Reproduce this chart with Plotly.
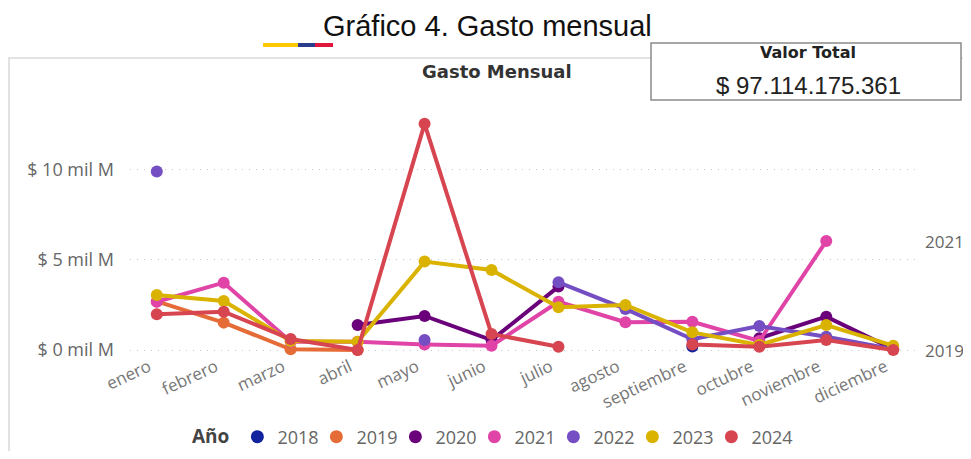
import plotly.graph_objects as go

months = ["enero", "febrero", "marzo", "abril", "mayo", "junio", "julio",
          "agosto", "septiembre", "octubre", "noviembre", "diciembre"]

# Valores en miles de millones (mil M)
y2018 = [None, None, None, None, None, None, None, None, 0.20, None, None, None]
y2019 = [2.70, 1.52, 0.04, 0.00, None, None, None, None, None, None, None, None]
y2020 = [None, None, None, 1.39, 1.89, 0.55, 3.52, None, None, 0.65, 1.85, 0.05]
y2021 = [2.68, 3.74, 0.46, 0.46, 0.31, 0.24, 2.68, 1.54, 1.57, 0.50, 6.05, None]
y2022 = [9.92, None, None, None, 0.55, None, 3.76, 2.28, 0.60, 1.33, 0.74, 0.05]
y2023 = [3.06, 2.72, 0.50, 0.46, 4.91, 4.44, 2.37, 2.50, 0.98, 0.28, 1.39, 0.24]
y2024 = [1.98, 2.13, 0.61, 0.00, 12.56, 0.89, 0.18, None, 0.30, 0.18, 0.55, 0.00]

years = ["2018", "2019", "2020", "2021", "2022", "2023", "2024"]
series = [y2018, y2019, y2020, y2021, y2022, y2023, y2024]
colors = ["#12239E", "#E66C37", "#6B007B", "#E044A7", "#744EC2", "#D9B300", "#D64550"]

tick_vals = [0, 5, 10]
tick_text = ["$ 0 mil M", "$ 5 mil M", "$ 10 mil M"]

main_title = "Gráfico 4. Gasto mensual"
chart_title = "Gasto Mensual"
card_label = "Valor Total"
card_value = "$ 97.114.175.361"
end_labels = [("2021", 6.05), ("2019", 0.0)]

# the page body adds an 8px margin; keep the figure inside the window
W, H = 955, 443
ML, MR, MT, MB = 122, 43, 102, 92
PW, PH = W - ML - MR, H - MT - MB


def px(x):  # page pixel -> paper x
    return (x - 8 - ML) / PW


def py(y):  # page pixel -> paper y
    return (H - MB - (y - 8)) / PH


OPEN = "Open Sans, Noto Sans, sans-serif"
DJ = "DejaVu Sans, sans-serif"
ARIAL = "Liberation Sans, Arial, sans-serif"

fig = go.Figure()
for yr, vals, col in zip(years, series, colors):
    fig.add_trace(go.Scatter(
        x=months, y=vals, mode="lines+markers", name=yr,
        line=dict(color=col, width=4), marker=dict(color=col, size=12),
        showlegend=False, cliponaxis=False, hoverinfo="skip"))
for yr, col in zip(years, colors):
    fig.add_trace(go.Scatter(
        x=[None], y=[None], mode="markers", name=yr,
        marker=dict(color=col, size=13), showlegend=True))
# spacer entry so the last legend label is not clipped
fig.add_trace(go.Scatter(x=[None], y=[None], mode="markers", name=" ",
                         marker=dict(color="rgba(0,0,0,0)", size=1), showlegend=True))

shapes = [
    dict(type="rect", xref="paper", yref="paper", x0=px(9), x1=px(990),
         y0=py(58), y1=py(480), line=dict(color="#d9d9d9", width=1.5),
         fillcolor="rgba(0,0,0,0)", layer="below"),
    dict(type="rect", xref="paper", yref="paper", x0=px(651), x1=px(961),
         y0=py(43), y1=py(100), line=dict(color="#8a8a8a", width=1.5),
         fillcolor="white", layer="above"),
    dict(type="line", xref="paper", yref="paper", x0=px(263), x1=px(298),
         y0=py(45), y1=py(45), line=dict(color="#FFC800", width=4)),
    dict(type="line", xref="paper", yref="paper", x0=px(298), x1=px(315),
         y0=py(45), y1=py(45), line=dict(color="#2B3C8C", width=4)),
    dict(type="line", xref="paper", yref="paper", x0=px(315), x1=px(333),
         y0=py(45), y1=py(45), line=dict(color="#E0163C", width=4)),
]

annotations = [
    dict(text=main_title, x=px(487), y=py(26),
         font=dict(family=ARIAL, size=29, color="#111")),
    dict(text="<b>" + chart_title + "</b>", x=px(497), y=py(71),
         font=dict(family=DJ, size=18, color="#333")),
    dict(text="<b>" + card_label + "</b>", x=px(808), y=py(52),
         font=dict(family=DJ, size=16, color="#222")),
    dict(text=card_value, x=px(808), y=py(86),
         font=dict(family=ARIAL, size=24, color="#222")),
]
for a in annotations:
    a.update(xref="paper", yref="paper", xanchor="center", yanchor="middle", showarrow=False)
for lab, val in end_labels:
    annotations.append(dict(text=lab, x=px(923), y=val, xref="paper", yref="y",
                            xanchor="left", yanchor="middle", showarrow=False,
                            font=dict(family=OPEN, size=17, color="#666")))

fig.update_layout(
    width=W, height=H, margin=dict(l=ML, r=MR, t=MT, b=MB, autoexpand=False),
    paper_bgcolor="white", plot_bgcolor="white",
    shapes=shapes, annotations=annotations,
    showlegend=True,
    legend=dict(orientation="h", x=px(190), y=py(437), xanchor="left", yanchor="middle",
                title=dict(text="<b>Año</b>", font=dict(family=OPEN, size=19, color="#444")),
                font=dict(family=OPEN, size=18, color="#666"),
                entrywidth=34, entrywidthmode="pixels",
                bgcolor="rgba(0,0,0,0)"),
    xaxis=dict(type="category", range=[-0.4, 11.4], showgrid=False, zeroline=False,
               showline=False, tickangle=-25, ticks="", automargin=False,
               ticklabelshift=-8, ticklabelstandoff=-6,
               tickfont=dict(family=OPEN, size=17, color="#777")),
    yaxis=dict(range=[-0.5, 13.33], tickvals=tick_vals, ticktext=tick_text,
               showgrid=True, gridcolor="#c8c8c8", griddash="1px,6px", gridwidth=1.3,
               zeroline=False, showline=False, ticklabelstandoff=15, automargin=False,
               tickfont=dict(family=OPEN, size=18, color="#666")),
)

fig.write_html("out.html")
